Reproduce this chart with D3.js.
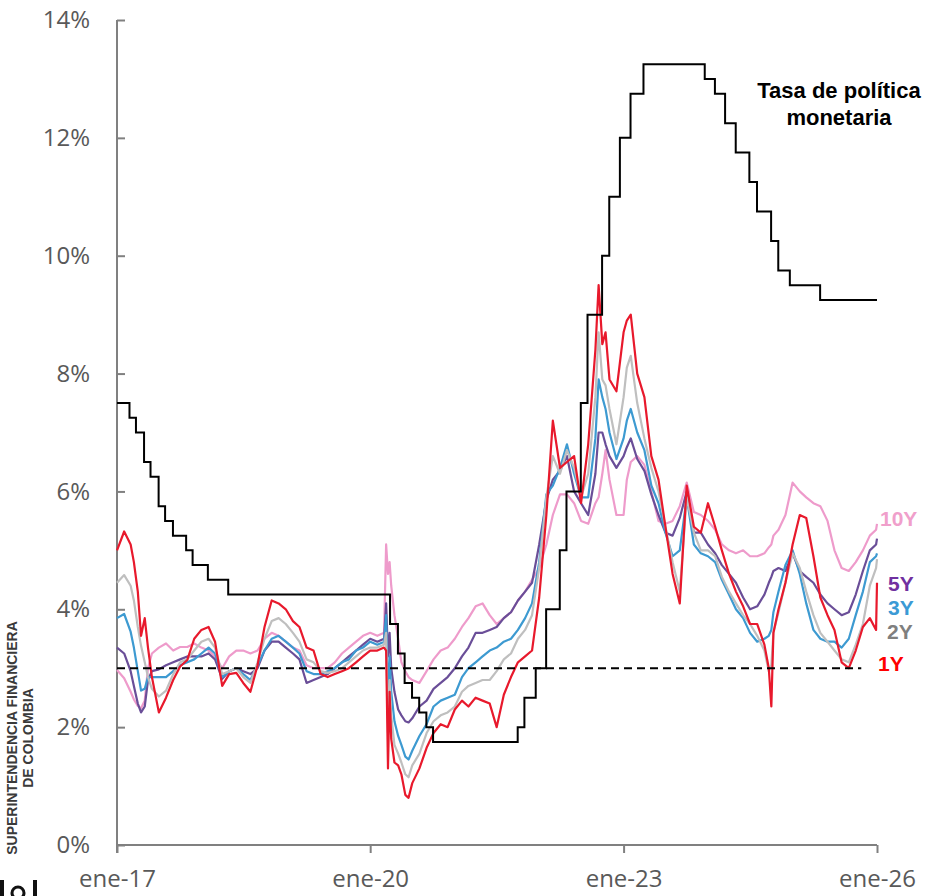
<!DOCTYPE html>
<html><head><meta charset="utf-8">
<script src="https://cdn.jsdelivr.net/npm/d3@7"></script>
<style>body{margin:0;background:#fff}svg{display:block}</style>
</head><body>
<svg id="chart" width="930" height="896"></svg>
<script>
// ---- DATA ----
const dates = [
"2017-01-01","2017-02-01","2017-03-01","2017-03-15","2017-04-01","2017-04-15","2017-05-01","2017-05-15","2017-06-01","2017-07-01","2017-08-01","2017-09-01","2017-10-01","2017-11-01","2017-12-01",
"2018-01-01","2018-02-01","2018-03-01","2018-04-01","2018-05-01","2018-06-01","2018-07-01","2018-08-01","2018-09-01","2018-10-01","2018-11-01","2018-12-01",
"2019-01-01","2019-02-01","2019-03-01","2019-04-01","2019-05-01","2019-06-01","2019-07-01","2019-08-01","2019-09-01","2019-10-01","2019-11-01","2019-12-01",
"2020-01-01","2020-02-01","2020-03-01","2020-03-10","2020-03-18","2020-03-25","2020-04-01","2020-04-15","2020-05-01","2020-05-15","2020-06-01","2020-06-15","2020-07-01","2020-08-01","2020-09-01","2020-10-01","2020-11-01","2020-12-01",
"2021-01-01","2021-02-01","2021-03-01","2021-04-01","2021-05-01","2021-06-01","2021-07-01","2021-08-01","2021-09-01","2021-10-01","2021-11-01","2021-12-01",
"2022-01-01","2022-02-01","2022-03-01","2022-04-01","2022-05-01","2022-06-01","2022-07-01","2022-08-01","2022-09-01","2022-09-15","2022-10-01","2022-10-15","2022-11-01","2022-12-01",
"2023-01-01","2023-01-15","2023-02-01","2023-03-01","2023-04-01","2023-05-01","2023-06-01","2023-07-01","2023-08-01","2023-09-01","2023-10-01","2023-11-01","2023-12-01",
"2024-01-01","2024-02-01","2024-03-01","2024-04-01","2024-05-01","2024-06-01","2024-07-01","2024-08-01","2024-09-01","2024-09-20","2024-10-01","2024-10-10","2024-11-01","2024-12-01",
"2025-01-01","2025-02-01","2025-03-01","2025-04-01","2025-05-01","2025-06-01","2025-07-01","2025-08-01","2025-09-01","2025-10-01","2025-11-01","2025-12-01","2025-12-28","2026-01-01"
];
const y1Y = [
5.00,5.32,5.10,4.80,4.30,3.55,3.85,3.35,2.85,2.25,2.50,2.80,3.03,3.14,3.50,
3.65,3.70,3.45,2.70,2.90,2.92,2.75,2.60,3.05,3.70,4.15,4.10,
4.00,3.80,3.70,3.35,3.30,2.90,2.85,2.90,2.95,3.00,3.10,3.20,
3.30,3.30,3.35,3.30,1.30,2.60,1.80,1.40,1.35,1.20,0.85,0.80,1.05,1.30,1.65,1.90,2.05,2.00,
2.30,2.45,2.35,2.50,2.45,2.40,2.00,2.55,2.85,3.10,3.20,3.30,
4.20,5.60,7.20,6.40,6.50,6.60,5.80,6.80,8.40,9.50,8.50,8.70,7.90,7.70,
8.70,8.90,9.00,8.00,7.60,6.60,6.20,5.40,4.60,4.10,6.10,5.40,5.30,
5.80,5.40,5.00,4.60,4.30,4.05,3.75,3.75,3.40,3.00,2.35,3.60,4.00,4.45,
5.10,5.60,5.55,4.90,4.20,3.90,3.65,3.10,3.00,3.30,3.70,3.85,3.65,4.45
];
const y2Y = [
4.45,4.58,4.40,4.15,3.70,3.38,3.10,2.85,2.65,2.52,2.62,2.90,3.10,3.15,3.30,
3.45,3.50,3.35,2.90,2.95,3.00,2.85,2.75,3.10,3.50,3.80,3.85,
3.75,3.60,3.45,3.15,3.10,2.95,2.92,2.95,3.00,3.10,3.20,3.30,
3.35,3.35,3.40,3.60,1.90,2.80,2.20,1.70,1.55,1.40,1.20,1.15,1.35,1.55,1.90,2.10,2.20,2.25,
2.35,2.60,2.70,2.75,2.80,2.80,2.95,3.15,3.25,3.50,3.65,3.90,
4.70,5.90,6.60,6.30,6.70,6.40,5.90,6.30,7.60,8.70,7.90,7.80,7.40,6.80,
7.60,8.10,8.30,7.50,6.90,6.40,6.00,5.40,4.80,4.30,5.90,5.30,5.00,
5.00,4.90,4.55,4.30,4.10,3.90,3.75,3.55,3.30,2.95,3.05,3.60,3.95,4.45,
4.95,4.70,4.30,3.90,3.60,3.45,3.30,3.15,3.10,3.40,3.75,4.40,4.70,4.85
];
const y3Y = [
3.85,3.92,3.62,3.35,2.95,2.62,2.65,2.85,2.85,2.85,2.85,2.95,3.05,3.10,3.15,
3.25,3.35,3.25,2.85,2.95,3.00,2.90,2.80,3.05,3.30,3.50,3.55,
3.45,3.35,3.25,2.95,2.90,2.90,2.95,3.00,3.10,3.15,3.30,3.35,
3.45,3.40,3.45,3.90,2.40,3.20,2.60,2.10,1.85,1.70,1.50,1.45,1.60,1.85,2.05,2.35,2.45,2.50,
2.55,2.85,3.00,3.10,3.20,3.30,3.35,3.45,3.50,3.65,3.85,4.10,
4.80,5.95,6.10,6.40,6.80,6.30,5.90,5.90,6.90,7.90,7.60,7.40,7.00,6.55,
6.90,7.20,7.40,7.00,6.70,6.10,5.80,5.30,4.90,5.00,5.90,5.10,4.95,
4.90,4.80,4.50,4.25,4.00,3.85,3.60,3.45,3.50,3.55,3.65,3.95,4.30,4.75,
5.00,4.60,4.10,3.65,3.50,3.45,3.45,3.35,3.50,3.90,4.30,4.80,4.90,4.95
];
const y5Y = [
3.35,3.25,2.95,2.70,2.40,2.25,2.35,2.80,2.95,2.98,3.05,3.10,3.15,3.20,3.20,
3.20,3.25,3.15,2.82,2.95,3.00,2.95,2.90,3.00,3.30,3.45,3.45,
3.35,3.25,3.15,2.75,2.80,2.85,2.90,3.00,3.10,3.20,3.30,3.40,
3.50,3.45,3.50,4.10,3.20,3.60,3.00,2.60,2.30,2.20,2.10,2.08,2.15,2.35,2.45,2.65,2.75,2.85,
3.00,3.20,3.35,3.60,3.60,3.65,3.70,3.85,3.95,4.15,4.30,4.45,
5.10,5.85,6.20,6.35,6.60,6.00,5.80,5.60,6.30,7.00,7.00,6.80,6.60,6.40,
6.60,6.75,6.90,6.55,6.35,5.95,5.60,5.30,5.25,5.55,6.00,5.30,5.30,
5.10,4.95,4.75,4.60,4.45,4.20,4.00,4.05,4.25,4.45,4.55,4.65,4.70,4.65,
4.95,4.65,4.55,4.45,4.25,4.10,4.00,3.90,3.95,4.25,4.65,5.00,5.10,5.20
];
const y10Y = [
2.97,2.83,2.60,2.47,2.36,2.32,2.45,3.00,3.25,3.35,3.42,3.30,3.36,3.36,3.42,
3.35,3.30,3.20,3.00,3.20,3.30,3.30,3.25,3.30,3.50,3.60,3.55,
3.45,3.35,3.30,3.05,3.00,3.00,3.00,3.10,3.25,3.35,3.45,3.55,
3.60,3.55,3.60,5.10,4.60,4.80,4.40,3.90,3.50,3.10,2.95,2.85,2.80,2.75,2.95,3.15,3.30,3.35,
3.50,3.70,3.85,4.05,4.10,3.90,3.75,3.85,3.95,4.15,4.30,4.50,
4.70,5.10,5.60,5.95,5.95,5.80,5.50,5.45,5.80,5.90,6.30,6.70,6.20,5.60,
5.60,6.20,6.50,6.60,6.45,6.00,5.50,5.45,5.50,5.75,6.15,5.65,5.60,
5.50,5.35,5.10,5.00,4.95,5.00,4.90,4.90,4.95,5.05,5.10,5.25,5.35,5.60,
6.15,6.00,5.90,5.80,5.75,5.50,5.00,4.70,4.65,4.80,5.00,5.25,5.35,5.45
];
const policyDates = [
"2017-01-01","2017-02-24","2017-03-24","2017-04-28","2017-05-26","2017-06-30","2017-07-28","2017-08-31","2017-10-27","2017-11-24","2018-01-29","2018-04-27",
"2020-03-27","2020-04-30","2020-05-29","2020-06-30","2020-07-31","2020-08-31","2020-09-29",
"2021-09-30","2021-10-29","2021-12-17","2022-01-31","2022-03-31","2022-04-29","2022-06-30","2022-07-29","2022-09-30","2022-10-31","2022-12-16",
"2023-01-31","2023-03-28","2023-12-18","2024-01-31","2024-03-15","2024-04-30","2024-06-28","2024-07-31","2024-09-30","2024-10-31","2024-12-20","2025-04-30","2026-01-01"
];
const policyRate = [
7.50,7.25,7.00,6.50,6.25,5.75,5.50,5.25,5.00,4.75,4.50,4.25,
3.75,3.25,2.75,2.50,2.25,2.00,1.75,
2.00,2.50,3.00,4.00,5.00,6.00,7.50,9.00,10.00,11.00,12.00,
12.75,13.25,13.00,12.75,12.25,11.75,11.25,10.75,10.25,9.75,9.50,9.25,9.25
];
const targetLevel = 3;
const targetRange = ["2017-01-01","2025-10-25"];
const xTickDates = ["2017-01-01","2020-01-01","2023-01-01","2026-01-01"];
const xTickLabels = ["ene-17","ene-20","ene-23","ene-26"];
const yTicks = [0,2,4,6,8,10,12,14];
const seriesNames = ["10Y","5Y","3Y","2Y","1Y"];
const seriesColors = {"1Y":"#E8192C","2Y":"#BFBFBF","3Y":"#3D9AD1","5Y":"#6A4E98","10Y":"#EE9BCB"};
const labelColors = {"1Y":"#FF0000","2Y":"#7F7F7F","3Y":"#3B9AD5","5Y":"#7030A0","10Y":"#F09FCB"};
const labelPos = {"10Y":[880,526],"5Y":[888,591],"3Y":[888,615],"2Y":[887,639],"1Y":[878,671]};

// ---- CHART ----
const parse = s => { const p = s.split("-").map(Number); return new Date(p[0], p[1]-1, p[2]||1); };
const seriesValues = {"1Y":y1Y,"2Y":y2Y,"3Y":y3Y,"5Y":y5Y,"10Y":y10Y};
const svg = d3.select("#chart");
const x = d3.scaleTime().domain([parse("2017-01-01"), parse("2026-01-01")]).range([117, 877]);
const y = d3.scaleLinear().domain([0, 14]).range([845, 20]);
const axisColor = "#808080";

// axes
const yAxis = d3.axisLeft(y).tickValues(yTicks).tickFormat(d => d + "%").tickSize(-8).tickPadding(27);
const gy = svg.append("g").attr("transform", `translate(${x.range()[0]},0)`).call(yAxis);
gy.select(".domain").remove();
gy.selectAll(".tick line").attr("stroke", axisColor).attr("stroke-width", 2);
gy.selectAll("text").attr("font-family", "'Open Sans', sans-serif").attr("font-size", 24).attr("fill", "#595959");

const xAxis = d3.axisBottom(x).tickValues(xTickDates.map(parse)).tickFormat((d,i) => xTickLabels[i]).tickSize(8).tickPadding(17);
const gx = svg.append("g").attr("transform", `translate(0,${y(0)})`).call(xAxis);
gx.select(".domain").remove();
gx.selectAll(".tick line").attr("stroke", axisColor).attr("stroke-width", 2);
gx.selectAll("text").attr("font-family", "'Open Sans', sans-serif").attr("font-size", 24).attr("fill", "#595959");

svg.append("line").attr("x1", x.range()[0]).attr("x2", x.range()[0]).attr("y1", y(14)).attr("y2", y(0) + 8)
  .attr("stroke", axisColor).attr("stroke-width", 2);
svg.append("line").attr("x1", x.range()[0]).attr("x2", x.range()[1]).attr("y1", y(0)).attr("y2", y(0))
  .attr("stroke", axisColor).attr("stroke-width", 2);

// yield lines
const line = d3.line().x(d => x(d.date)).y(d => y(d.v));
seriesNames.forEach(name => {
  const data = dates.map((s, i) => ({date: parse(s), v: seriesValues[name][i]}));
  svg.append("path").datum(data).attr("d", line).attr("fill", "none")
    .attr("stroke", seriesColors[name]).attr("stroke-width", 2.2).attr("stroke-linejoin", "round");
});

// target dashed line
svg.append("line").attr("x1", x(parse(targetRange[0]))).attr("x2", x(parse(targetRange[1])))
  .attr("y1", y(targetLevel)).attr("y2", y(targetLevel))
  .attr("stroke", "#000").attr("stroke-width", 2).attr("stroke-dasharray", "8,5");

// policy rate
const pData = policyDates.map((s, i) => ({date: parse(s), v: policyRate[i]}));
svg.append("path").datum(pData).attr("d", d3.line().curve(d3.curveStepAfter).x(d => x(d.date)).y(d => y(d.v)))
  .attr("fill", "none").attr("stroke", "#000").attr("stroke-width", 2);

// title annotation
const t = svg.append("text").attr("x", 839).attr("text-anchor", "middle")
  .attr("font-family", "'Liberation Sans', Arial, sans-serif").attr("font-weight", 700).attr("font-size", 22).attr("fill", "#000");
t.append("tspan").attr("x", 839).attr("y", 98).text("Tasa de política");
t.append("tspan").attr("x", 839).attr("y", 125).text("monetaria");

// series labels
seriesNames.forEach(name => {
  svg.append("text").attr("x", labelPos[name][0]).attr("y", labelPos[name][1])
    .attr("font-family", "'Liberation Sans', Arial, sans-serif").attr("font-weight", 700).attr("font-size", 21)
    .attr("fill", labelColors[name]).text(name);
});

// source logo text
const logo = svg.append("g").attr("transform", "translate(0,738) rotate(-90)");
logo.append("text").attr("x", 0).attr("y", 17).attr("text-anchor", "middle")
  .attr("font-family", "'Liberation Sans', Arial, sans-serif").attr("font-weight", 700).attr("font-size", 14)
  .attr("fill", "#3a3a3a").text("SUPERINTENDENCIA FINANCIERA");
logo.append("text").attr("x", 0).attr("y", 33).attr("text-anchor", "middle")
  .attr("font-family", "'Liberation Sans', Arial, sans-serif").attr("font-weight", 700).attr("font-size", 14)
  .attr("fill", "#3a3a3a").text("DE COLOMBIA");
const mark = svg.append("g").attr("fill", "#111");
mark.append("rect").attr("x", 0).attr("y", 880).attr("width", 4).attr("height", 16);
mark.append("circle").attr("cx", 18).attr("cy", 893).attr("r", 6).attr("fill", "none").attr("stroke", "#111").attr("stroke-width", 3);
mark.append("rect").attr("x", 33).attr("y", 880).attr("width", 4).attr("height", 16);
</script>
</body></html>
